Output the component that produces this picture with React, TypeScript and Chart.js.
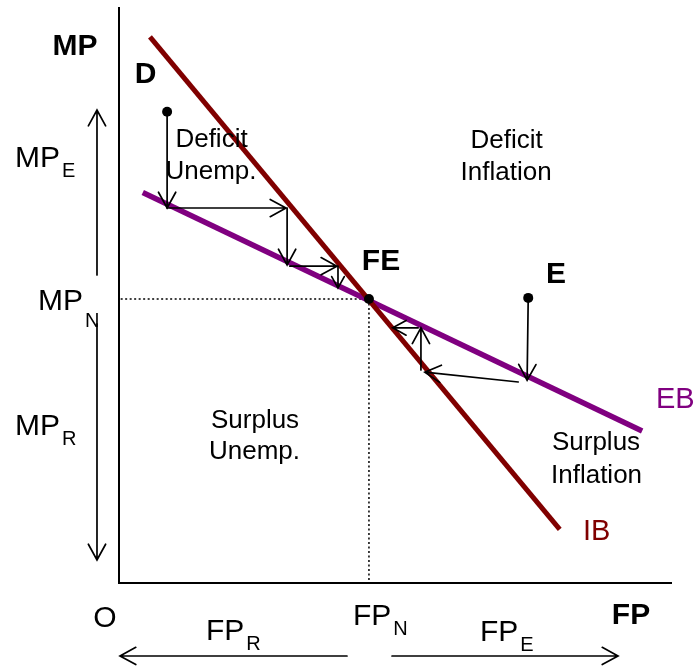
import React, { useEffect, useRef } from "react";
import { Chart, registerables } from "chart.js";

Chart.register(...registerables);

const FONT = '"Liberation Sans", Arial, Helvetica, sans-serif';

// Curves (chart units: x 0..100 = FP axis, y 0..100 = MP axis)
const ibLine = [
  { x: 5.6, y: 94.8 },
  { x: 79.7, y: 9.3 },
];
const ebLine = [
  { x: 4.3, y: 67.8 },
  { x: 94.6, y: 26.4 },
];
const fullEmployment = { x: 45.2, y: 49.3 };
const startPoints = [
  { x: 8.7, y: 81.8 },
  { x: 74.0, y: 49.5 },
];

// Adjustment paths [x1, y1, x2, y2]
const pathD = [
  [8.7, 81.8, 8.7, 65.1],
  [8.7, 65.1, 30.2, 65.1],
  [30.4, 65.1, 30.4, 55.2],
  [30.9, 55.0, 39.4, 55.0],
  [39.6, 55.0, 39.6, 51.2],
];
const pathE = [
  [74.0, 49.5, 73.8, 35.2],
  [72.2, 34.9, 55.3, 36.6],
  [54.6, 37.0, 54.6, 44.3],
  [54.1, 44.3, 49.5, 44.3],
];
// Axis-direction arrows
const axisArrows = [
  [-3.98, 53.47, -3.98, 82.12],
  [-3.98, 44.97, -3.98, 3.99],
  [41.23, -12.67, 0.18, -12.67],
  [49.37, -12.67, 90.24, -12.67],
];

// Labels: [text, subscript, x, y, size, bold, color, align, subOffset]
type Lbl = [string, string, number, number, number, boolean, string, CanvasTextAlign, number];
const labels: Lbl[] = [
  ["MP", "", -7.96, 91.67, 30, true, "#000", "center", 0],
  ["D", "", 4.79, 86.81, 30, true, "#000", "center", 0],
  ["MP", "E", -18.81, 72.22, 30, false, "#000", "left", 10],
  ["MP", "N", -14.65, 47.4, 30, false, "#000", "left", 17],
  ["MP", "R", -18.81, 25.69, 30, false, "#000", "left", 10],
  ["FP", "R", 15.73, -9.9, 30, false, "#000", "left", 10],
  ["FP", "N", 42.31, -7.29, 30, false, "#000", "left", 10],
  ["FP", "E", 65.28, -10.07, 30, false, "#000", "left", 10],
  ["FP", "", 92.59, -7.12, 30, true, "#000", "center", 0],
  ["O", "", -2.53, -7.64, 30, false, "#000", "center", 0],
  ["Deficit", "", 16.73, 75.69, 26, false, "#000", "center", 0],
  ["Unemp.", "", 16.64, 70.2, 26, false, "#000", "center", 0],
  ["Surplus", "", 24.6, 26.91, 26, false, "#000", "center", 0],
  ["Unemp.", "", 24.5, 21.53, 26, false, "#000", "center", 0],
  ["Deficit", "", 70.1, 75.52, 26, false, "#000", "center", 0],
  ["Inflation", "", 70.0, 69.97, 26, false, "#000", "center", 0],
  ["Surplus", "", 86.26, 23.09, 26, false, "#000", "center", 0],
  ["Inflation", "", 86.35, 17.36, 26, false, "#000", "center", 0],
  ["E", "", 79.02, 52.08, 30, true, "#000", "center", 0],
  ["FE", "", 47.38, 54.34, 30, true, "#000", "center", 0],
  ["EB", "", 97.11, 30.38, 29, false, "#800080", "left", 0],
  ["IB", "", 83.91, 7.47, 29, false, "#800000", "left", 0],
];

function drawArrow(ctx: CanvasRenderingContext2D, x1: number, y1: number, x2: number, y2: number) {
  const dx = x2 - x1;
  const dy = y2 - y1;
  const len = Math.hypot(dx, dy);
  const head = Math.min(18, len * 0.6);
  const ang = Math.atan2(dy, dx);
  const spread = 0.5;
  ctx.beginPath();
  ctx.moveTo(x1, y1);
  ctx.lineTo(x2, y2);
  ctx.moveTo(x2 - head * Math.cos(ang - spread), y2 - head * Math.sin(ang - spread));
  ctx.lineTo(x2, y2);
  ctx.lineTo(x2 - head * Math.cos(ang + spread), y2 - head * Math.sin(ang + spread));
  ctx.stroke();
}

const diagramPlugin = {
  id: "diagram",
  beforeDatasetsDraw(chart: any) {
    const { ctx, scales } = chart;
    const xs = scales.x;
    const ys = scales.y;
    ctx.save();
    ctx.strokeStyle = "#000";
    ctx.lineWidth = 2;
    ctx.beginPath();
    ctx.moveTo(xs.getPixelForValue(0), ys.getPixelForValue(100));
    ctx.lineTo(xs.getPixelForValue(0), ys.getPixelForValue(0));
    ctx.lineTo(xs.getPixelForValue(100), ys.getPixelForValue(0));
    ctx.stroke();
    ctx.restore();
  },
  afterDatasetsDraw(chart: any) {
    const { ctx, scales } = chart;
    const xs = scales.x;
    const ys = scales.y;
    ctx.save();
    ctx.strokeStyle = "#000";
    ctx.lineWidth = 1.7;
    ctx.lineCap = "round";
    ctx.lineJoin = "miter";
    [...pathD, ...pathE, ...axisArrows].forEach((a) => {
      drawArrow(
        ctx,
        xs.getPixelForValue(a[0]),
        ys.getPixelForValue(a[1]),
        xs.getPixelForValue(a[2]),
        ys.getPixelForValue(a[3])
      );
    });
    ctx.textBaseline = "alphabetic";
    labels.forEach(([text, sub, x, y, size, bold, color, align, subOff]) => {
      const px = xs.getPixelForValue(x);
      const py = ys.getPixelForValue(y);
      ctx.fillStyle = color;
      ctx.font = `${bold ? "bold " : ""}${size}px ${FONT}`;
      ctx.textAlign = align;
      ctx.fillText(text, px, py);
      if (sub) {
        const w = ctx.measureText(text).width;
        ctx.font = `20px ${FONT}`;
        ctx.textAlign = "left";
        ctx.fillText(sub, px + w + 2, py + subOff);
      }
    });
    // equilibrium / starting dots on top of everything
    ctx.fillStyle = "#000";
    [fullEmployment, ...startPoints].forEach((p) => {
      ctx.beginPath();
      ctx.arc(xs.getPixelForValue(p.x), ys.getPixelForValue(p.y), 5, 0, Math.PI * 2);
      ctx.fill();
    });
    ctx.restore();
  },
};

export default function App() {
  const ref = useRef<HTMLCanvasElement | null>(null);
  useEffect(() => {
    document.body.style.margin = "0";
    const canvas = ref.current;
    if (!canvas) return;
    const chart = new Chart(canvas, {
      type: "scatter",
      data: {
        datasets: [
          {
            data: ibLine,
            showLine: true,
            borderColor: "#800000",
            borderWidth: 5,
            pointRadius: 0,
            clip: false,
            order: 1,
          },
          {
            data: ebLine,
            showLine: true,
            borderColor: "#800080",
            borderWidth: 5.5,
            pointRadius: 0,
            clip: false,
            order: 2,
          },
          {
            data: [{ x: 0.3, y: fullEmployment.y }, fullEmployment],
            showLine: true,
            borderColor: "#000",
            borderWidth: 1.5,
            borderDash: [2, 2.5],
            pointRadius: 0,
            clip: false,
            order: 3,
          },
          {
            data: [fullEmployment, { x: fullEmployment.x, y: 0 }],
            showLine: true,
            borderColor: "#000",
            borderWidth: 1.5,
            borderDash: [2, 2.5],
            pointRadius: 0,
            clip: false,
            order: 3,
          },
        ],
      },
      options: {
        responsive: false,
        animation: false,
        devicePixelRatio: 1,
        events: [],
        layout: { padding: { left: 119, right: 25, top: 7, bottom: 85 } },
        scales: {
          x: { type: "linear", min: 0, max: 100, display: false },
          y: { type: "linear", min: 0, max: 100, display: false },
        },
        plugins: {
          legend: { display: false },
          tooltip: { enabled: false },
        },
        elements: { line: { tension: 0 } },
      },
      plugins: [diagramPlugin],
    } as any);
    return () => chart.destroy();
  }, []);
  return (
    <div style={{ width: 697, height: 668, background: "#fff" }}>
      <canvas ref={ref} width={697} height={668} style={{ display: "block" }} />
    </div>
  );
}
